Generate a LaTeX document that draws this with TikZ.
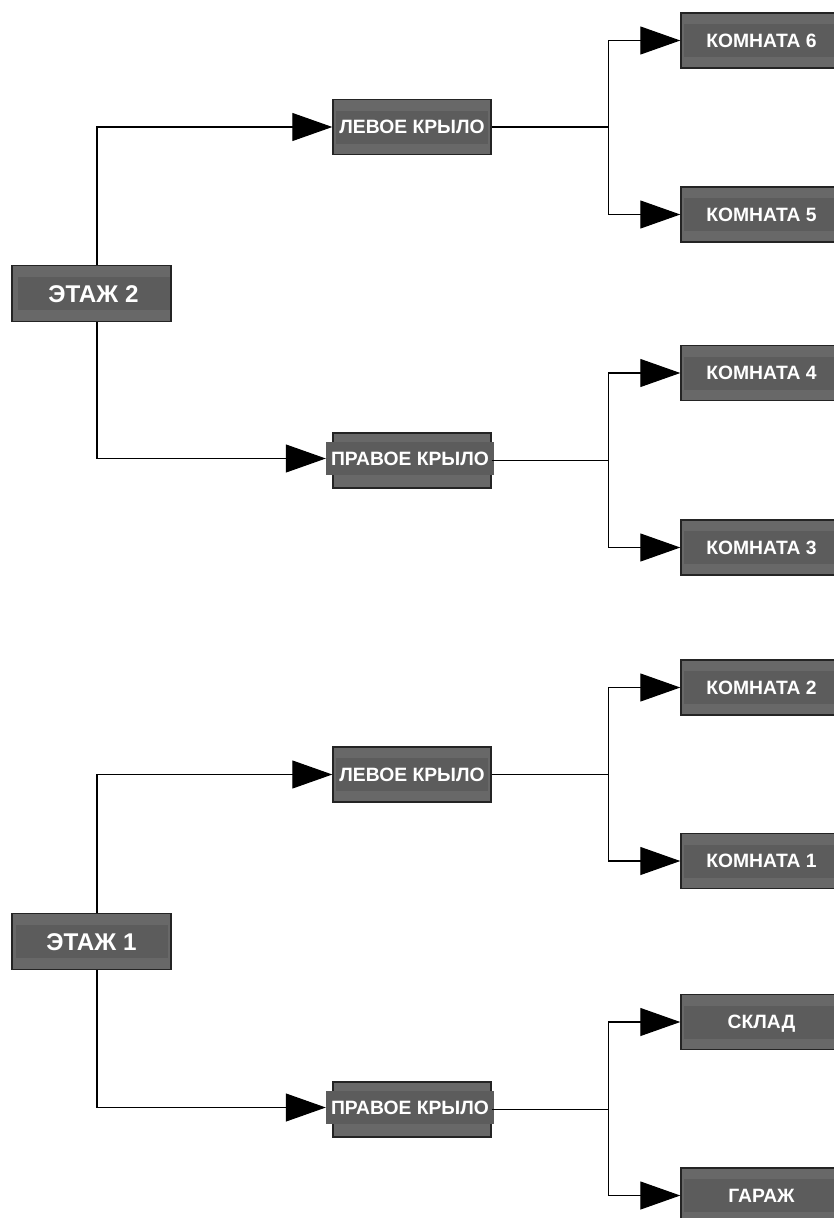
\documentclass[tikz,border=0pt]{standalone}
\usepackage{fontspec}
\setmainfont{Liberation Sans}
\usetikzlibrary{arrows.meta}
\definecolor{boxfill}{HTML}{686868}
\definecolor{bandfill}{HTML}{5C5C5C}
\definecolor{boxline}{HTML}{242424}
\begin{document}
\begin{tikzpicture}[x=1pt,y=-1pt,
  box/.style={rectangle, draw=boxline, line width=1.4pt, fill=boxfill,
    minimum height=55pt, inner sep=0pt},
  floorbox/.style={box, minimum width=159pt, minimum height=56pt},
  wingbox/.style={box, minimum width=158pt},
  roombox/.style={box, minimum width=159pt},
  band/.style={rectangle, fill=bandfill, minimum height=33pt, inner sep=0pt,
    text=white, font=\bfseries\fontsize{19.3}{21}\selectfont,
    text height=13.8pt, text depth=0pt},
  floorband/.style={band, minimum width=152pt,
    font=\bfseries\fontsize{24.2}{26}\selectfont, text height=17.3pt},
  wingband/.style={band, minimum width=152pt},
  roomband/.style={band, minimum width=155pt},
  conn/.style={draw=black, line width=1.1pt},
  arr/.style={conn, -{Triangle[length=40pt,width=28pt]}}
]
\useasboundingbox (0,0) rectangle (834,1218);

% ---------- floor 2 ----------
\node[floorbox] (f2) at (91.5,293.5) {};
\node[floorband] (f2-t) at ([xshift=2pt]f2.center) {ЭТАЖ 2};

\node[wingbox] (f2L) at (412,127) {};
\node[wingband] (f2L-t) at (f2L.center) {ЛЕВОЕ КРЫЛО};
\node[wingbox] (f2R) at (412,460.5) {};
\node[wingband, minimum width=168pt] (f2R-t) at ([shift={(-2pt,2pt)}]f2R.center) {ПРАВОЕ КРЫЛО};

\node[roombox] (r6) at (760.5,40.5) {};
\node[roomband] (r6-t) at ([xshift=1pt]r6.center) {КОМНАТА 6};
\node[roombox] (r5) at (760.5,214.5) {};
\node[roomband] (r5-t) at ([xshift=1pt]r5.center) {КОМНАТА 5};
\node[roombox] (r4) at (760.5,373) {};
\node[roomband] (r4-t) at ([xshift=1pt]r4.center) {КОМНАТА 4};
\node[roombox] (r3) at (760.5,547.5) {};
\node[roomband] (r3-t) at ([xshift=1pt]r3.center) {КОМНАТА 3};

% ---------- floor 1 ----------
\node[floorbox] (f1) at (91.5,941.5) {};
\node[floorband] (f1-t) at (f1.center) {ЭТАЖ 1};

\node[wingbox] (f1L) at (412,774.5) {};
\node[wingband] (f1L-t) at (f1L.center) {ЛЕВОЕ КРЫЛО};
\node[wingbox] (f1R) at (412,1109.5) {};
\node[wingband, minimum width=168pt] (f1R-t) at ([shift={(-2pt,2pt)}]f1R.center) {ПРАВОЕ КРЫЛО};

\node[roombox] (r2) at (760.5,687.5) {};
\node[roomband] (r2-t) at ([xshift=1pt]r2.center) {КОМНАТА 2};
\node[roombox] (r1) at (760.5,861) {};
\node[roomband] (r1-t) at ([xshift=1pt]r1.center) {КОМНАТА 1};
\node[roombox] (sk) at (760.5,1022) {};
\node[roomband] (sk-t) at ([xshift=1pt]sk.center) {СКЛАД};
\node[roombox] (gr) at (760.5,1195.5) {};
\node[roomband] (gr-t) at ([xshift=1pt]gr.center) {ГАРАЖ};

% ---------- connectors: floors to wings ----------
\draw[arr] ([xshift=5.5pt]f2.north) |- (f2L.west);
\draw[arr] ([xshift=5.5pt]f2.south) |- (f2R-t.west);
\draw[arr] ([xshift=5.5pt]f1.north) |- (f1L.west);
\draw[arr] ([xshift=5.5pt]f1.south) |- (f1R-t.west);

% ---------- connectors: wings to rooms ----------
\path (f2L.east) ++(117pt,0) coordinate (j2L);
\path (f2R.east) ++(117pt,0) coordinate (j2R);
\path (f1L.east) ++(117pt,0) coordinate (j1L);
\path (f1R.east) ++(117pt,0) coordinate (j1R);

\draw[conn] (f2L.east) -- (j2L);
\draw[arr] (j2L) |- (r6.west);
\draw[arr] (j2L) |- (r5.west);

\draw[conn] (f2R.east) -- (j2R);
\draw[arr] (j2R) |- (r4.west);
\draw[arr] (j2R) |- (r3.west);

\draw[conn] (f1L.east) -- (j1L);
\draw[arr] (j1L) |- (r2.west);
\draw[arr] (j1L) |- (r1.west);

\draw[conn] (f1R.east) -- (j1R);
\draw[arr] (j1R) |- (sk.west);
\draw[arr] (j1R) |- (gr.west);
\end{tikzpicture}
\end{document}
